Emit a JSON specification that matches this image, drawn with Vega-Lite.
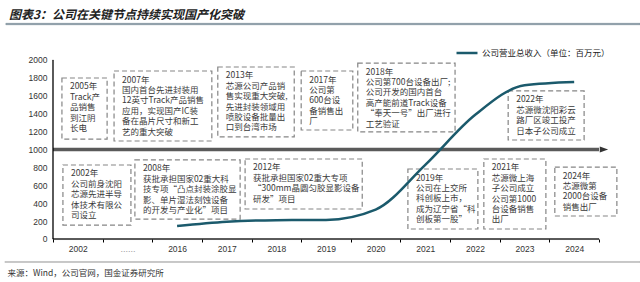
{
  "$schema": "https://vega.github.io/schema/vega-lite/v6.json",
  "autosize": {"type": "none"},
  "width": 640,
  "height": 282,
  "padding": 0,
  "background": "white",
  "title": {
    "text": "图表3：公司在关键节点持续实现国产化突破",
    "anchor": "start",
    "frame": "group",
    "dx": 9,
    "offset": -27,
    "baseline": "middle",
    "fontSize": 12,
    "fontStyle": "italic",
    "fontWeight": "bold",
    "font": "Noto Sans CJK SC",
    "color": "#222222"
  },
  "config": {
    "view": {"stroke": null},
    "font": "Liberation Sans"
  },
  "datasets": {
    "revenue": [
      {"year": "2016", "revenue": 145},
      {"year": "2017", "revenue": 193},
      {"year": "2018", "revenue": 210},
      {"year": "2019", "revenue": 213},
      {"year": "2020", "revenue": 329},
      {"year": "2021", "revenue": 829},
      {"year": "2022", "revenue": 1385},
      {"year": "2023", "revenue": 1717},
      {"year": "2024", "revenue": 1754}
    ],
    "frame": [
      {"part": "title rule", "x1": -0.95, "x2": 11.826, "y1": 2394, "y2": 2410},
      {"part": "source rule", "x1": -0.97, "x2": 11.826, "y1": -262, "y2": -251},
      {"part": "axis", "x1": 0, "x2": 11, "y1": -6, "y2": 5},
      {"part": "axis", "x1": -0.01, "x2": 0.01, "y1": 0, "y2": 2000}
    ],
    "boxes": [
      {"label": "2005年\nTrack产\n品销售\n到江阴\n长电", "x1": 0.18, "x2": 1.09, "y1": 1117, "y2": 1799},
      {"label": "2007年\n国内首台先进封装用\n12英寸Track产品销售\n应用，实现国产IC装\n备在晶片尺寸和新工\n艺的重大突破", "x1": 1.23, "x2": 3.2, "y1": 1095, "y2": 1877},
      {"label": "2013年\n芯源公司产品销\n售实现重大突破,\n先进封装领域用\n喷胶设备批量出\n口到台湾市场", "x1": 3.32, "x2": 4.86, "y1": 1140, "y2": 1922},
      {"label": "2017年\n公司第\n600台设\n备销售出\n厂", "x1": 5.0, "x2": 6.04, "y1": 1218, "y2": 1877},
      {"label": "2018年\n公司第700台设备出厂;\n公司开发的国内首台\n高产能前道Track设备\n“奉天一号”出厂进行\n工艺验证", "x1": 6.14, "x2": 8.1, "y1": 1196, "y2": 1966},
      {"label": "2022年\n芯源微沈阳彩云\n路厂区竣工投产\n日本子公司成立", "x1": 9.17, "x2": 10.7, "y1": 1106, "y2": 1654},
      {"label": "2002年\n公司前身沈阳\n芯源先进半导\n体技术有限公\n司设立", "x1": 0.2, "x2": 1.57, "y1": 156, "y2": 827},
      {"label": "2008年\n获批承担国家02重大科\n技专项“凸点封装涂胶显\n影、单片湿法刻蚀设备\n的开发与产业化”项目", "x1": 1.65, "x2": 3.77, "y1": 223, "y2": 883},
      {"label": "2012年\n获批承担国家02重大专项\n“300mm晶圆匀胶显影设备\n研发”项目", "x1": 3.87, "x2": 6.23, "y1": 335, "y2": 894},
      {"label": "2019年\n公司在上交所\n科创板上市，\n成为辽宁省“科\n创板第一股”", "x1": 7.15, "x2": 8.56, "y1": 112, "y2": 782},
      {"label": "2021年\n芯源微上海\n子公司成立\n公司第1000\n台设备销售\n出厂", "x1": 8.68, "x2": 9.93, "y1": 112, "y2": 894},
      {"label": "2024年\n芯源微第\n2000台设备\n销售出厂", "x1": 10.11, "x2": 11.36, "y1": 257, "y2": 804}
    ]
  },
  "layer": [
    {
      "data": {"name": "boxes"},
      "mark": {"type": "rect", "fill": null, "stroke": "#858585", "strokeWidth": 1.2, "strokeDash": [5, 3]},
      "encoding": {
        "x": {"field": "x1", "type": "quantitative", "scale": {"domain": [-1.06776, 11.826], "nice": false, "zero": false}, "axis": null},
        "x2": {"field": "x2"},
        "y": {"field": "y1", "type": "quantitative", "scale": {"domain": [-480.45, 2670.39], "nice": false, "zero": false}, "axis": null},
        "y2": {"field": "y2"}
      }
    },
    {
      "data": {"name": "boxes"},
      "mark": {"type": "text", "align": "left", "baseline": "top", "dx": 8, "dy": 4.5, "fontSize": 8.5, "lineHeight": 10.4, "lineBreak": "\n", "font": "Noto Sans CJK SC", "color": "#3a3a3a"},
      "encoding": {
        "x": {"field": "x1", "type": "quantitative", "scale": {"domain": [-1.06776, 11.826], "nice": false, "zero": false}, "axis": null},
        "y": {"field": "y2", "type": "quantitative", "scale": {"domain": [-480.45, 2670.39], "nice": false, "zero": false}, "axis": null},
        "text": {"field": "label"}
      }
    },
    {
      "data": {"values": [{}]},
      "mark": {"type": "rule", "stroke": "#5a5a5a", "strokeWidth": 3.5},
      "encoding": {
        "x": {"datum": 0, "type": "quantitative", "scale": {"domain": [-1.06776, 11.826], "nice": false, "zero": false}, "axis": null},
        "x2": {"datum": 11.0},
        "y": {"datum": 1000, "type": "quantitative", "scale": {"domain": [-480.45, 2670.39], "nice": false, "zero": false}, "axis": null}
      }
    },
    {
      "data": {"values": [{}]},
      "mark": {"type": "point", "shape": "M-1,-0.7L1,0L-1,0.7Z", "filled": true, "color": "#333333", "size": 70, "opacity": 1},
      "encoding": {
        "x": {"datum": 11.1, "type": "quantitative", "scale": {"domain": [-1.06776, 11.826], "nice": false, "zero": false}, "axis": null},
        "y": {"datum": 1000, "type": "quantitative", "scale": {"domain": [-480.45, 2670.39], "nice": false, "zero": false}, "axis": null}
      }
    },
    {
      "data": {"name": "revenue"},
      "mark": {"type": "line", "interpolate": "monotone", "strokeWidth": 2.5},
      "encoding": {
        "x": {
          "field": "year",
          "type": "ordinal",
          "scale": {"type": "band", "domain": ["2002", "......", "2016", "2017", "2018", "2019", "2020", "2021", "2022", "2023", "2024"], "paddingInner": 0, "paddingOuter": 0.94689, "align": 0.56383},
          "axis": {
            "orient": "bottom",
            "offset": -43,
            "domain": false,
            "tickBand": "extent",
            "labelAngle": 0,
            "labelFontSize": {"condition": {"test": "datum.value === '......'", "value": 9}, "value": 8.5},
            "labelColor": {"condition": {"test": "datum.value === '......'", "value": "#9a9a9a"}, "value": "#333333"},
            "labelPadding": 2,
            "tickSize": 3,
            "tickColor": "#000000",
            "grid": false,
            "title": "来源：Wind，公司官网，国金证券研究所",
            "titleAnchor": "start",
            "titleAlign": "left",
            "titleX": 7,
            "titleY": 33,
            "titleBaseline": "middle",
            "titleFontSize": 8.5,
            "titleFontWeight": "normal",
            "titleFont": "Noto Sans CJK SC",
            "titleColor": "#333333"
          }
        },
        "y": {
          "field": "revenue",
          "type": "quantitative",
          "scale": {"domain": [-480.45, 2670.39], "nice": false, "zero": false},
          "axis": {
            "orient": "left",
            "offset": -53,
            "domain": false,
            "ticks": false,
            "grid": false,
            "values": [0, 200, 400, 600, 800, 1000, 1200, 1400, 1600, 1800, 2000],
            "format": "d",
            "labelOverlap": false,
            "labelFontSize": 8.5,
            "labelColor": "#333333",
            "labelPadding": 6,
            "title": null
          }
        },
        "color": {
          "datum": "公司营业总收入（单位：百万元）",
          "type": "nominal",
          "scale": {"range": ["#1b5a6c"]},
          "legend": {
            "orient": "none",
            "legendX": 455,
            "legendY": 41,
            "title": null,
            "symbolType": "stroke",
            "symbolSize": 440,
            "symbolStrokeWidth": 2.5,
            "labelFontSize": 8.5,
            "labelFont": "Noto Sans CJK SC",
            "labelColor": "#222222",
            "labelOffset": 3
          }
        }
      }
    },
    {
      "data": {"name": "frame"},
      "transform": [{"filter": "datum.part === 'title rule'"}],
      "mark": {"type": "rect", "fill": "#7f909c", "stroke": "#7f909c", "strokeWidth": 0.5},
      "encoding": {
        "x": {"field": "x1", "type": "quantitative", "scale": {"domain": [-1.06776, 11.826], "nice": false, "zero": false}, "axis": null},
        "x2": {"field": "x2"},
        "y": {"field": "y1", "type": "quantitative", "scale": {"domain": [-480.45, 2670.39], "nice": false, "zero": false}, "axis": null},
        "y2": {"field": "y2"}
      }
    },
    {
      "data": {"name": "frame"},
      "transform": [{"filter": "datum.part === 'source rule'"}],
      "mark": {"type": "rect", "fill": "#aaaaaa", "stroke": "#aaaaaa", "strokeWidth": 0.3},
      "encoding": {
        "x": {"field": "x1", "type": "quantitative", "scale": {"domain": [-1.06776, 11.826], "nice": false, "zero": false}, "axis": null},
        "x2": {"field": "x2"},
        "y": {"field": "y1", "type": "quantitative", "scale": {"domain": [-480.45, 2670.39], "nice": false, "zero": false}, "axis": null},
        "y2": {"field": "y2"}
      }
    },
    {
      "data": {"name": "frame"},
      "transform": [{"filter": "datum.part === 'axis'"}],
      "mark": {"type": "rect", "fill": "#000000", "stroke": "#000000", "strokeWidth": 0.3},
      "encoding": {
        "x": {"field": "x1", "type": "quantitative", "scale": {"domain": [-1.06776, 11.826], "nice": false, "zero": false}, "axis": null},
        "x2": {"field": "x2"},
        "y": {"field": "y1", "type": "quantitative", "scale": {"domain": [-480.45, 2670.39], "nice": false, "zero": false}, "axis": null},
        "y2": {"field": "y2"}
      }
    }
  ],
  "resolve": {"scale": {"x": "independent", "y": "independent"}}
}
